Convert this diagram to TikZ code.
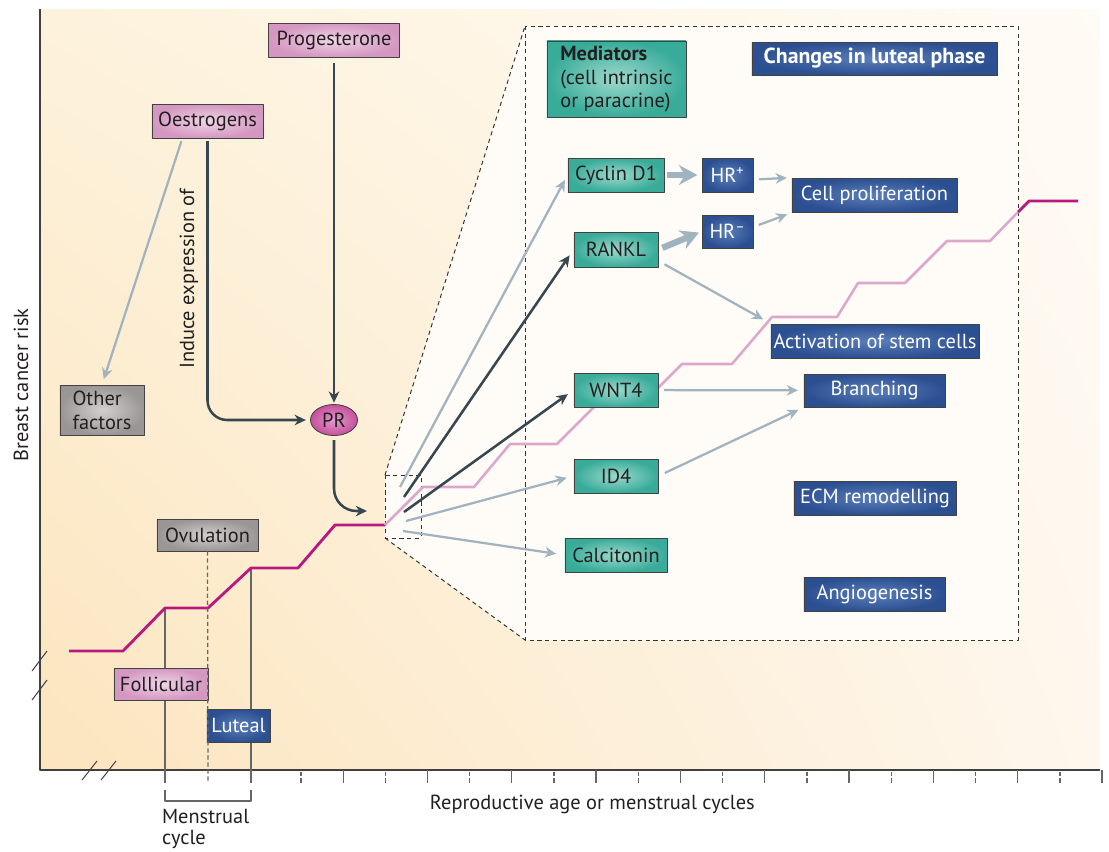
\documentclass[tikz,border=0pt]{standalone}
\usepackage{fontspec}
\setmainfont{PT Sans}
\usetikzlibrary{arrows.meta,positioning,calc,shapes.geometric,shadings}

\definecolor{bgll}{HTML}{FCE5BE}
\definecolor{bgul}{HTML}{FDF2DC}
\definecolor{bglr}{HTML}{FEF7ED}
\definecolor{bgur}{HTML}{FFFBF5}
\definecolor{zoomfill}{HTML}{FFFCF7}
\definecolor{pinkout}{HTML}{D497C1}
\definecolor{pinkin}{HTML}{EFD5E6}
\definecolor{greyout}{HTML}{9A9696}
\definecolor{greyin}{HTML}{D2CFCF}
\definecolor{tealout}{HTML}{38AB99}
\definecolor{tealin}{HTML}{9CD9CC}
\definecolor{blueout}{HTML}{2B4F91}
\definecolor{bluein}{HTML}{5C7FB9}
\definecolor{prout}{HTML}{C64F9C}
\definecolor{prin}{HTML}{E39ACA}
\definecolor{darkarr}{HTML}{36474F}
\definecolor{lightarr}{HTML}{A0B3BE}
\definecolor{riskcol}{HTML}{B8187F}
\definecolor{riskpale}{HTML}{DDA6CB}
\definecolor{txtcol}{HTML}{231F20}

\tikzset{
  box/.style={draw=txtcol!85, line width=0.6pt, inner sep=0pt, text=txtcol,
    font=\fontsize{14.5}{17}\selectfont},
  pinkbox/.style={box, inner color=pinkin, outer color=pinkout},
  greybox/.style={box, inner color=greyin, outer color=greyout},
  tealbox/.style={box, inner color=tealin, outer color=tealout},
  bluebox/.style={box, text=white, inner color=bluein, outer color=blueout},
  darkline/.style={draw=darkarr, line width=1.8pt, -{Stealth[length=8pt,width=7.5pt]}},
  lightline/.style={draw=lightarr, line width=1.6pt, -{Stealth[length=8pt,width=7.5pt]}},
  fatline/.style={draw=lightarr, line width=4.5pt, -{Stealth[length=13pt,width=14pt]}},
  dashline/.style={draw=black!80, line width=0.7pt, dash pattern=on 3pt off 2.5pt},
  tickline/.style={draw=black!60, line width=0.9pt},
  riskline/.style={draw=riskcol, line width=2pt},
  riskpaleline/.style={draw=riskpale, line width=1.8pt},
  plain/.style={text=txtcol, font=\fontsize{14.5}{17}\selectfont}
}

\begin{document}
\begin{tikzpicture}[x=0.025cm, y=-0.025cm, >=Stealth, line join=round]
  \useasboundingbox (0,0) rectangle (1109,851);

  % plot area and zoomed window
  \shade[lower left=bgll, upper left=bgul, lower right=bglr, upper right=bgur]
    (40,9) rectangle (1100,770);
  \fill[zoomfill] (385,475) -- (525,26) -- (1018,26) -- (1018,640) -- (525,640)
    -- (385,538) -- cycle;
  \draw[dashline] (385,475) -- (525,26) (385,538) -- (525,640);
  \draw[dashline] (525,26) rectangle (1018,640);
  \draw[dashline] (385,475) rectangle (421,538);

  % axes
  \draw[black!75, line width=0.9pt] (40,9) -- (40,770) -- (1100,770);
  \foreach \s in {82,101} \draw[black!75, line width=0.7pt] (\s,780) -- (\s+15,761);
  \foreach \s in {651,680} \draw[black!75, line width=0.7pt] (32,\s+20) -- (47,\s);
  \foreach \k in {0,...,9} {
    \draw[tickline] (343.16+84.32*\k,770) -- (343.16+84.32*\k,783);
    \draw[tickline, dash pattern=on 3pt off 1.5pt] (301+84.32*\k,772) -- (301+84.32*\k,783);
  }
  \draw[tickline] (165,608) -- (165,783);
  \draw[tickline] (251,568) -- (251,783);
  \draw[tickline] (165,790) -- (165,801) -- (251,801) -- (251,790);

  % risk curve
  \draw[riskline] (69,651) -- (123,651) -- (165,608) -- (208,608) -- (251,568)
    -- (298,568) -- (335,525) -- (385,525);
  \draw[riskpaleline] (385,525) -- (423,487) -- (474,487) -- (510,444) -- (557,444)
    -- (597,404) -- (642,404) -- (682,364) -- (732,364) -- (772,317) -- (837,317)
    -- (858,283) -- (905,283) -- (947,241) -- (990,241) -- (1018,212);
  \draw[riskline] (1018,212) -- (1029,201) -- (1078,201);

  % hormones
  \node[pinkbox, minimum width=3.275cm, minimum height=0.85cm] (prog) at (334,40) {Progesterone};
  \node[pinkbox, minimum width=2.775cm, minimum height=0.85cm] (oest) at (207.5,121) {Oestrogens};
  \node[greybox, minimum width=2.1cm, minimum height=1.25cm, align=left] (other) at (102,410) {Other\\factors};
  \node[box, ellipse, inner color=prin, outer color=prout, minimum width=1.175cm,
    minimum height=0.775cm] (pr) at (334,420) {PR};

  % mediators
  \node[tealbox, minimum width=3.475cm, minimum height=1.9cm, align=left] (med) at (616.5,79)
    {\textbf{Mediators}\\(cell intrinsic\\or paracrine)};
  \node[tealbox, minimum width=2.4cm, minimum height=0.85cm] (cyc) at (616,175) {Cyclin D1};
  \node[tealbox, minimum width=2.1cm, minimum height=0.875cm] (rankl) at (616,249.5) {RANKL};
  \node[tealbox, minimum width=2.1cm, minimum height=0.85cm] (wnt) at (616,390) {WNT4};
  \node[tealbox, minimum width=2.1cm, minimum height=0.85cm] (idf) at (616,476) {ID4};
  \node[tealbox, minimum width=2.55cm, minimum height=0.85cm] (calc) at (616,555) {Calcitonin};

  % luteal phase changes
  \node[bluebox, minimum width=6.125cm, minimum height=0.825cm] (chg) at (874.5,58.5)
    {\fontsize{15.5}{17}\selectfont\textbf{Changes in luteal phase}};
  \node[bluebox, minimum width=1.275cm, minimum height=0.85cm] (hrp) at (727.5,175) {HR\textsuperscript{+}};
  \node[bluebox, minimum width=1.275cm, minimum height=0.825cm] (hrm) at (727.5,231.5) {HR\textsuperscript{–}};
  \node[bluebox, minimum width=4.125cm, minimum height=0.85cm] (prolif) at (874.5,195) {Cell proliferation};
  \node[bluebox, minimum width=5.2cm, minimum height=0.85cm] (stem) at (875,341) {Activation of stem cells};
  \node[bluebox, minimum width=3.525cm, minimum height=0.825cm] (branch) at (874.5,390.5) {Branching};
  \node[bluebox, minimum width=4.05cm, minimum height=0.85cm] (ecm) at (875,498) {ECM remodelling};
  \node[bluebox, minimum width=3.525cm, minimum height=0.85cm] (angio) at (874.5,594) {Angiogenesis};

  % cycle phases
  \node[greybox, minimum width=2.525cm, minimum height=0.8cm] (ovul) at (207.5,535) {Ovulation};
  \node[pinkbox, minimum width=2.35cm, minimum height=0.8cm] (foll) at (161,684) {Follicular};
  \node[bluebox, minimum width=1.575cm, minimum height=0.825cm] (lut) at (238.5,725.5) {Luteal};
  \coordinate (ovfoot) at (208,783);
  \draw[tickline, dash pattern=on 3pt off 2pt] (ovul.south) -- (ovfoot);

  % labels
  \node[plain, rotate=90] (ylab) at (21,385) {Breast cancer risk};
  \node[plain, rotate=90] (induce) at (189,279) {Induce expression of};
  \node[plain, anchor=west] (xlab) at (425,804) {Reproductive age or menstrual cycles};
  \node[plain, font=\fontsize{14.5}{15}\selectfont, align=left, anchor=north west, inner sep=2pt]
    (mens) at (159,806) {Menstrual\\cycle};

  % hormone arrows
  \draw[darkline, shorten <=4pt, shorten >=1pt] (prog) -- (pr);
  \draw[darkline, rounded corners=14pt, shorten <=2pt, shorten >=3pt] (oest.south) |- (pr.west);
  \draw[lightline, shorten <=2pt, shorten >=4pt] ([xshift=-0.63cm]oest.south) -- (other.north);
  \coordinate (lens) at (367,511);
  \draw[darkline, rounded corners=16pt, shorten <=3pt] (pr.south) |- (lens);

  % fan into the mediators
  \coordinate (f1) at (400,487);
  \coordinate (f2) at (404,497);
  \coordinate (f3) at (404,512);
  \coordinate (f4) at (406,521);
  \coordinate (f5) at (403,531);
  \draw[lightline, shorten >=4pt] (f1) -- (cyc.west);
  \draw[darkline, shorten >=5pt] (f2) -- (rankl.west);
  \draw[darkline, shorten >=5pt] (f3) -- (wnt.west);
  \draw[lightline, shorten >=5pt] (f4) -- (idf.west);
  \draw[lightline, shorten >=6pt] (f5) -- (calc.west);

  % mediator arrows
  \draw[fatline, shorten <=2pt, shorten >=3pt] (cyc) -- (hrp);
  \draw[fatline, shorten <=3pt, shorten >=2pt] (rankl.east) -- (hrm.west);
  \draw[lightline, shorten <=4pt, shorten >=4pt] (hrp.-10) -- (prolif.168);
  \draw[lightline, shorten <=4pt, shorten >=4pt] (hrm.10) -- (prolif.192);
  \draw[lightline, shorten <=5pt, shorten >=6pt] (rankl.-15) -- (stem.north west);
  \draw[lightline, shorten <=4pt, shorten >=4pt] (wnt) -- (branch);
  \draw[lightline, shorten <=5pt, shorten >=4pt] (idf.east) -- (branch.south west);
\end{tikzpicture}
\end{document}
